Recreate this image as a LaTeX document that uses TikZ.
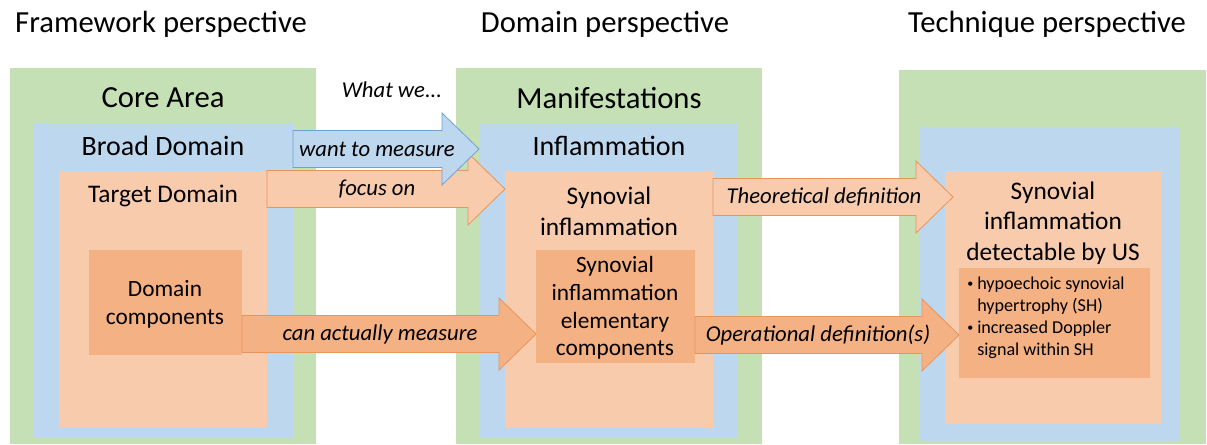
\documentclass[tikz,border=0pt]{standalone}
\usepackage{fontspec}
\setmainfont{Carlito}
\usetikzlibrary{calc,fit}

\definecolor{greenbg}{HTML}{C5E0B4}
\definecolor{bluebg}{HTML}{BDD7EE}
\definecolor{lightor}{HTML}{F8CBAD}
\definecolor{darkor}{HTML}{F4B183}
\definecolor{blueln}{HTML}{6FA0D2}
\definecolor{orln}{HTML}{E8955C}

\newcommand{\fatarrow}[7][0]{%
  \coordinate (#7s) at (#3.east |- 0,#5);
  \coordinate (#7e) at ($(#4.west |- 0,#5)+(#1,0)$);
  \draw[#2] let \p1=(#7s), \p2=(#7e) in
    (\x1,\y1+13.9pt) -- (\x2-27.75pt,\y1+13.9pt) -- (\x2-27.75pt,\y1+27pt) -- (\x2,\y1)
    -- (\x2-27.75pt,\y1-27pt) -- (\x2-27.75pt,\y1-13.9pt) -- (\x1,\y1-13.9pt) -- cycle;
  \node[arrowtext] (#7) at ($(#7s)!0.5!(#7e)+(-9,0)$) {#6};}

\newcommand{\smallbullet}{\raisebox{0.12em}{\fontsize{9}{9}\selectfont\textbullet}}

\begin{document}
\begin{tikzpicture}[x=0.75pt,y=-0.75pt,
  box/.style={draw=none,inner sep=0pt,outer sep=0pt},
  title/.style={font=\fontsize{23}{28}\selectfont},
  lvlone/.style={font=\fontsize{23}{28}\selectfont},
  lvltwo/.style={font=\fontsize{21}{26}\selectfont},
  lvlthree/.style={font=\fontsize{19}{23}\selectfont,align=center},
  lvlfour/.style={font=\fontsize{17.5}{20.8}\selectfont,align=center},
  arrowtext/.style={font=\fontsize{17}{20}\selectfont\itshape,inner sep=0pt},
  bluearrow/.style={fill=bluebg,draw=blueln,line width=0.6pt},
  lightarrow/.style={fill=lightor,draw=orln,line width=0.6pt},
  darkarrow/.style={fill=darkor,draw=orln,line width=0.6pt}]

\useasboundingbox (0,0) rectangle (1207,444);

\node[title] (fwtitle) at (161,24) {Framework perspective};
\node[title] (domtitle) at (605,24) {Domain perspective};
\node[title] (techtitle) at (1047,24) {Technique perspective};

% framework
\node[box,fill=greenbg,fit={(10,68) (316,444)}] (core) {};
\node[box,fill=bluebg,fit={(33,123) (293,438)}] (broad) {};
\node[box,fill=lightor,fit={(59,171) (267,428)}] (target) {};
\node[box,fill=darkor,fit={(89,250) (242,355)}] (dcomp) {};
\node[lvlone] (coretxt) at (163,98) {Core Area};
\node[lvltwo] (broadtxt) at (163,146) {Broad Domain};
\node[lvlthree] (targettxt) at (163,196) {Target Domain};
\node[lvlfour] (dcomptxt) at (165,304) {Domain\\components};

% domain
\node[box,fill=greenbg,fit={(456,68) (762,444)}] (manif) {};
\node[box,fill=bluebg,fit={(479,123) (738,438)}] (inflam) {};
\node[box,fill=lightor,fit={(505,171) (713,428)}] (syn) {};
\node[box,fill=darkor,fit={(536,250) (695,363)}] (synel) {};
\node[lvlone] (maniftxt) at (609,98) {Manifestations};
\node[lvltwo] (inflamtxt) at (609,146) {Inflammation};
\node[lvlthree] (syntxt) at (609,211) {Synovial\\inflammation};
\node[lvlfour] (syneltxt) at (615,308) {Synovial\\inflammation\\elementary\\components};

% technique
\node[box,fill=greenbg,fit={(899,70) (1206,444)}] (tech) {};
\node[box,fill=bluebg,fit={(919,127) (1179,441)}] (techblue) {};
\node[box,fill=lightor,fit={(945,171) (1161,424)}] (synus) {};
\node[box,fill=darkor,fit={(959,268) (1150,378)}] (usfeat) {};
\node[lvlthree] (synustxt) at (1053,223) {Synovial\\inflammation\\detectable by US};
\node[anchor=west,inner sep=0pt,font=\fontsize{13.6}{16.5}\selectfont] (usfeattxt) at (967,318)
  {\begin{tabular}{@{}l@{\hspace{3pt}}l@{}}
   \smallbullet & hypoechoic synovial\\
   & hypertrophy (SH)\\
   \smallbullet & increased Doppler\\
   & signal within SH
   \end{tabular}};

\node[font=\fontsize{17}{20}\selectfont\itshape] (whatwe) at (392,90) {What we...};

\fatarrow{lightarrow}{target}{syn}{189}{focus on}{focus}
\fatarrow{bluearrow}{broad}{inflam}{149}{want to measure}{want}
\fatarrow{darkarrow}{dcomp}{synel}{334}{can actually measure}{can}
\fatarrow[8]{lightarrow}{syn}{synus}{197}{Theoretical definition}{theo}
\fatarrow{darkarrow}{synel}{usfeat}{335}{Operational definition(s)}{oper}

\end{tikzpicture}
\end{document}
